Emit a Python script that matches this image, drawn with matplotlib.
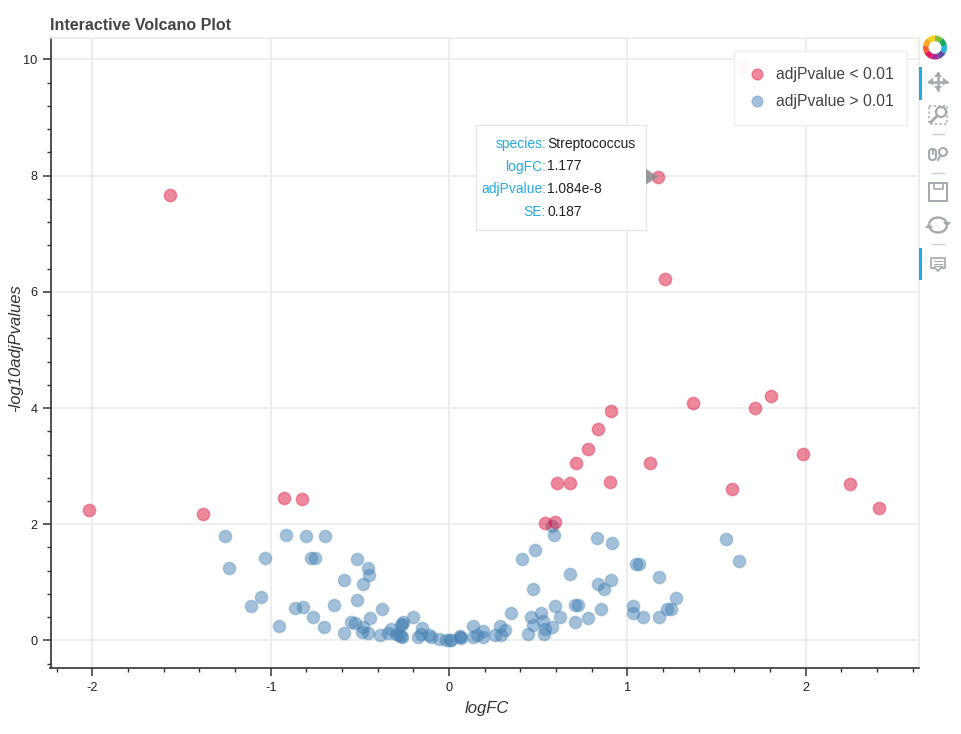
import numpy as np
import matplotlib
matplotlib.use("Agg")
import matplotlib.pyplot as plt
from matplotlib.patches import Rectangle, Polygon, Wedge, FancyBboxPatch, Circle
from matplotlib.ticker import MultipleLocator
from matplotlib.lines import Line2D

plt.rcParams['font.family'] = ['Liberation Sans', 'DejaVu Sans']
plt.rcParams['axes.unicode_minus'] = False

sig_logfc = [-2.019, -1.378, -0.923, -0.824, -1.565, 1.174, 1.21, 1.368, 1.716, 1.806, 1.985,
             2.249, 2.414, 1.585, 0.909, 0.836, 0.78, 0.712, 1.127, 0.604, 0.68, 0.903, 0.536, 0.594, 1.651]
sig_logp = [2.239, 2.17, 2.451, 2.428, 7.67, 7.985, 6.218, 4.09, 4.0, 4.21, 3.21,
            2.695, 2.274, 2.6, 3.95, 3.64, 3.3, 3.05, 3.05, 2.705, 2.705, 2.72, 2.027, 2.03, 9.88]

ns_logfc = [-1.258, -1.232, -1.03, -0.914, -0.804, -0.697, -0.772, -0.75, -0.518, -0.452, -0.447,
            -0.589, -0.48, -0.516, -0.645, -0.376, -1.054, -1.11, -0.862, -0.819, -0.761, -0.441,
            -0.951, -0.703, -0.551, -0.527, -0.482, -0.589, -0.488, -0.452, -0.387, -0.344, -0.325,
            -0.295, -0.282, -0.269, -0.271, -0.262, -0.258, -0.262, -0.2, -0.15, -0.172, -0.155,
            -0.112, -0.099, -0.056, -0.015, 0.013, 0.007, 0.06, 0.067, 0.062,
            0.133, 0.133, 0.159, 0.193, 0.191, 0.258, 0.284, 0.292, 0.314, 0.346, 0.445, 0.46,
            0.469, 0.518, 0.525, 0.533, 0.54, 0.578, 0.593, 0.625, 0.708, 0.708, 0.725, 0.778,
            0.853, 0.469, 0.679, 0.834, 0.869, 0.907, 0.411, 0.48, 0.591, 0.578, 0.832, 0.914,
            1.047, 1.066, 1.18, 1.032, 1.034, 1.09, 1.178, 1.224, 1.243, 1.275, 1.553, 1.624]
ns_logp = [1.797, 1.251, 1.412, 1.82, 1.8, 1.79, 1.412, 1.412, 1.4, 1.246, 1.125,
           1.045, 0.97, 0.7, 0.608, 0.545, 0.74, 0.597, 0.551, 0.568, 0.396, 0.385,
           0.241, 0.224, 0.316, 0.3, 0.235, 0.12, 0.138, 0.132, 0.098, 0.12, 0.195,
           0.109, 0.098, 0.258, 0.075, 0.063, 0.321, 0.28, 0.4, 0.212, 0.063, 0.109,
           0.086, 0.052, 0.029, 0.011, 0.011, 0.006, 0.075, 0.046, 0.063,
           0.247, 0.063, 0.092, 0.166, 0.052, 0.086, 0.247, 0.098, 0.172, 0.465, 0.115, 0.396,
           0.264, 0.471, 0.327, 0.115, 0.189, 0.235, 0.586, 0.396, 0.316, 0.603, 0.603, 0.39,
           0.54, 0.878, 1.142, 0.97, 0.878, 1.039, 1.4, 1.561, 1.808, 1.975, 1.762, 1.676,
           1.309, 1.309, 1.085, 0.597, 0.471, 0.396, 0.402, 0.545, 0.54, 0.723, 1.751, 1.366]

x_ticks = [-2, -1, 0, 1, 2]
y_ticks = [0, 2, 4, 6, 8, 10]
legend_labels = ['adjPvalue < 0.01', 'adjPvalue > 0.01']
tip_keys = ['species:', 'logFC:', 'adjPvalue:', 'SE:']
tip_vals = ['Streptococcus', '1.177', '1.084e-8', '0.187']

W, H = 961, 734
fig = plt.figure(figsize=(W / 100, H / 100), dpi=100, facecolor='white')
ax = fig.add_axes([50.5 / W, 1 - 668 / H, (919 - 50.5) / W, 630 / H])
ax.set_xlim(-2.235, 2.636)
ax.set_ylim(-0.475, 10.37)

RED = '#dc143c'
BLUE = '#4682b4'
GRID = '#e9e9e9'
to_rgba = matplotlib.colors.to_rgba
ax.set_axisbelow(True)
ax.set_xticks(x_ticks)
ax.set_yticks(y_ticks)
ax.xaxis.set_minor_locator(MultipleLocator(0.2))
ax.yaxis.set_minor_locator(MultipleLocator(0.4))
ax.grid(True, which='major', color=GRID, lw=1.1)
ax.tick_params(axis='x', which='major', length=5.5, width=1.1, color='#333333', labelsize=9.2,
               labelcolor='#222222', pad=4.5)
ax.tick_params(axis='y', which='major', length=5.5, width=1.1, color='#333333', labelsize=9.2,
               labelcolor='#222222', pad=4)
ax.tick_params(which='minor', length=2.8, width=1.0, color='#333333')
for s in ['left', 'bottom']:
    ax.spines[s].set_color('#333333')
    ax.spines[s].set_linewidth(1.2)
for s in ['top', 'right']:
    ax.spines[s].set_color(GRID)
    ax.spines[s].set_linewidth(1.1)

ax.scatter(ns_logfc, ns_logp, s=80, facecolor=to_rgba(BLUE, 0.5),
           edgecolor=to_rgba(BLUE, 0.3), linewidth=1.1, zorder=3)
ax.scatter(sig_logfc, sig_logp, s=80, facecolor=to_rgba(RED, 0.5),
           edgecolor=to_rgba(RED, 0.35), linewidth=1.1, zorder=3)

fig.text(50 / W, 1 - 25 / H, 'Interactive Volcano Plot', fontsize=11.5, fontweight='bold',
         color='#444444', va='center', ha='left')
fig.text(487 / W, 1 - 708 / H, 'logFC', fontsize=12, style='italic', color='#333333',
         ha='center', va='center')
fig.text(15.5 / W, 1 - 348 / H, '-log10adjPvalues', fontsize=12, style='italic', color='#333333',
         rotation=90, ha='center', va='center')

# Overlay in pixel coordinates for legend box, tooltip and toolbar
ov = fig.add_axes([0, 0, 1, 1], facecolor='none')
ov.set_xlim(0, W)
ov.set_ylim(H, 0)
ov.axis('off')

# Legend
ov.add_patch(Rectangle((733.5, 50.5), 173.5, 74.5, fc='white', ec='#eeeeee', lw=1.0, alpha=0.96, zorder=1))
handles = [Line2D([], [], ls='none', marker='o', ms=8, mfc=to_rgba(RED, 0.5),
                  mec=to_rgba(RED, 0.35), mew=1.0),
           Line2D([], [], ls='none', marker='o', ms=8, mfc=to_rgba(BLUE, 0.5),
                  mec=to_rgba(BLUE, 0.3), mew=1.0)]
leg = ov.legend(handles, legend_labels, loc='upper left', bbox_to_anchor=(731 / W, 1 - 49 / H),
                bbox_transform=fig.transFigure, borderaxespad=0, fontsize=11.3, frameon=False,
                labelcolor='#444444', borderpad=1.15, labelspacing=0.79, handlelength=1.05,
                handletextpad=0.68)
leg.set_zorder(2)

ov.add_patch(Rectangle((475.5, 124.5), 170, 105.5, fc='white', ec='#e6e6e6', lw=1.0, zorder=5))
ov.add_patch(Polygon([[646, 169], [646, 184.5], [658, 176.7]], fc='#8f8f8f', ec='none', alpha=0.9, zorder=6))
TIP = '#26aae1'
for i, (k, v) in enumerate(zip(tip_keys, tip_vals)):
    y = 144 + i * 22.5
    ov.text(546, y, k, color=TIP, fontsize=10, ha='right', va='center', zorder=7)
    ov.text(547.5, y, v, color='#222222', fontsize=10, ha='left', va='center', zorder=7)

# Toolbar
ICON = '#a3a9ad'
logo_cols = ['#f2612c', '#f7a81b', '#f4d11b', '#7cc242', '#17a865', '#26b6d8', '#5b4ea3', '#a6278f', '#e6165c']
for i, c in enumerate(logo_cols):
    a0 = 170 - i * 40
    ov.add_patch(Wedge((935, 47.5), 12, -a0 - 40, -a0, width=5.6, fc=c, ec='none'))
ov.add_patch(Rectangle((919, 67), 2.6, 33, fc='#26aae1', ec='none'))
ov.add_patch(Rectangle((919, 248), 2.6, 32, fc='#26aae1', ec='none'))
for y in [134, 172.5, 244]:
    ov.plot([932, 944], [y, y], color='#cfcfcf', lw=1)
# move
ov.plot([929, 947], [81.5, 81.5], color=ICON, lw=1.8)
ov.plot([938, 938], [73, 90], color=ICON, lw=1.8)
for tri in ([[938, 72], [934, 77], [942, 77]], [[938, 91], [934, 86], [942, 86]],
            [[928, 81.5], [933, 77.5], [933, 85.5]], [[948, 81.5], [943, 77.5], [943, 85.5]]):
    ov.add_patch(Polygon(tri, fc=ICON, ec='none'))
# box zoom
ov.add_patch(Rectangle((929, 106), 18, 18, fc='none', ec=ICON, lw=1.1, ls=(0, (1.5, 1.5))))
ov.add_patch(Circle((941, 112), 5, fc='white', ec=ICON, lw=1.6))
ov.plot([937, 931], [116, 122], color=ICON, lw=2)
# wheel zoom
ov.add_patch(FancyBboxPatch((929, 149), 7, 11, boxstyle='round,pad=0,rounding_size=3.5', fc='none', ec=ICON, lw=1.5))
ov.plot([932.5, 932.5], [151, 154], color=ICON, lw=1.3)
ov.add_patch(Circle((943, 152), 4, fc='none', ec=ICON, lw=1.5))
ov.plot([940.5, 938], [155, 160], color=ICON, lw=1.5)
# save
ov.add_patch(Rectangle((929, 183), 17.5, 17.5, fc='none', ec=ICON, lw=1.4))
ov.plot([934, 934, 943, 943], [183, 188.5, 188.5, 183], color=ICON, lw=1.2)
# reset
theta1 = np.linspace(np.radians(200), np.radians(340), 30)
theta2 = np.linspace(np.radians(20), np.radians(160), 30)
ov.plot(938 + 9 * np.cos(theta1), 225 + 7.5 * np.sin(theta1), color=ICON, lw=1.7)
ov.plot(938 + 9 * np.cos(theta2), 225 + 7.5 * np.sin(theta2), color=ICON, lw=1.7)
ov.add_patch(Polygon([[943, 222], [951, 222], [947, 227]], fc=ICON, ec='none'))
ov.add_patch(Polygon([[925, 228], [933, 228], [929, 223]], fc=ICON, ec='none'))
# hover
ov.add_patch(Polygon([[931, 258], [945, 258], [945, 268], [941, 268], [938, 271], [935, 268], [931, 268]],
                     fc='none', ec=ICON, lw=1.2, closed=True))
for y in [261, 263.5, 266]:
    ov.plot([934, 942], [y, y], color=ICON, lw=0.8)

fig.savefig('out.png', dpi=100, facecolor='white')
